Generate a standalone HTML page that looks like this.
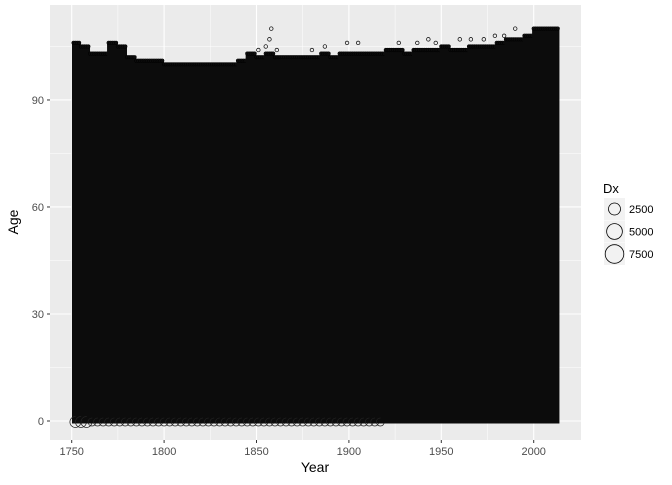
<!DOCTYPE html>
<html><head><meta charset="utf-8"><style>
body{margin:0;background:#fff;font-family:"Liberation Sans",sans-serif}
</style></head><body>
<svg id="chart" width="672" height="480" xmlns="http://www.w3.org/2000/svg" font-family="Liberation Sans, sans-serif">
<rect x="50" y="5" width="531" height="435" fill="#ebebeb"/>
<g id="grid"></g>
<g id="marks"></g>
<g id="axes"></g>
<text x="315" y="472" font-size="14" text-anchor="middle">Year</text>
<text transform="translate(18,222) rotate(-90)" font-size="14" text-anchor="middle">Age</text>
<g>
<text x="603" y="193" font-size="13">Dx</text>
<g id="legend-keys"></g>
</g>
</svg>
<script>
const xTicks=[1750,1800,1850,1900,1950,2000];
const yTicks=[0,30,60,90];
const binStarts=[1750,1755,1760,1765,1770,1775,1780,1785,1790,1795,1800,1805,1810,1815,1820,1825,1830,1835,1840,1845,1850,1855,1860,1865,1870,1875,1880,1885,1890,1895,1900,1905,1910,1915,1920,1925,1930,1935,1940,1945,1950,1955,1960,1965,1970,1975,1980,1985,1990,1995,2000,2005,2010];
const binMaxAge=[106,105,103,103,106,105,102,101,101,101,100,100,100,100,100,100,100,100,101,103,102,103,102,102,102,102,102,103,102,103,103,103,103,103,104,104,103,104,104,104,105,104,104,105,105,105,106,107,107,108,110,110,110];
const outlierYears=[1851,1855,1857,1858,1861,1880,1887,1899,1905,1927,1937,1943,1947,1960,1966,1973,1979,1984,1990];
const outlierAges=[104,105,107,110,104,104,105,106,106,106,106,107,106,107,107,107,108,108,110];
const legendValues=[2500,5000,7500];
const NS='http://www.w3.org/2000/svg';
const x=v=>71.7+(v-1750)*1.848;
const y=v=>421-v*3.567;
const r=v=>Math.sqrt(v)*0.09+1.5;
function mk(t,a,p){const e=document.createElementNS(NS,t);for(const k in a)e.setAttribute(k,a[k]);p.appendChild(e);return e;}
const grid=document.getElementById('grid'),marks=document.getElementById('marks'),axes=document.getElementById('axes');
for(let i=0;i<xTicks.length;i++){
 const gx=mk('line',{x1:x(xTicks[i]),x2:x(xTicks[i]),y1:5,y2:440,stroke:'#fff','stroke-width':1.1},grid);
 
 if(i<xTicks.length-1){const m=(xTicks[i]+xTicks[i+1])/2;const gm=mk('line',{x1:x(m),x2:x(m),y1:5,y2:440,stroke:'#fff','stroke-width':0.5},grid);
 }
 const t=mk('line',{x1:x(xTicks[i]),x2:x(xTicks[i]),y1:440,y2:443,stroke:'#333'},axes);
 
 const l=mk('text',{x:x(xTicks[i]),y:455,'font-size':11,fill:'#4d4d4d','text-anchor':'middle'},axes);l.textContent=xTicks[i];
 
}
mk('line',{x1:x(1725),x2:x(1725),y1:5,y2:440,stroke:'#fff','stroke-width':0.5},grid);
for(let i=0;i<yTicks.length;i++){
 const g=mk('line',{x1:50,x2:581,y1:y(yTicks[i]),y2:y(yTicks[i]),stroke:'#fff','stroke-width':1.1},grid);
 
 const m=yTicks[i]+15;const gm=mk('line',{x1:50,x2:581,y1:y(m),y2:y(m),stroke:'#fff','stroke-width':0.5},grid);
 
 const t=mk('line',{x1:47,x2:50,y1:y(yTicks[i]),y2:y(yTicks[i]),stroke:'#333'},axes);
 
 const l=mk('text',{x:44,y:y(yTicks[i])+4,'font-size':11,fill:'#4d4d4d','text-anchor':'end'},axes);l.textContent=yTicks[i];
 
}
for(let yr=1751;yr<=2013;yr++){
 const bi=Math.min(binStarts.length-1,Math.floor((yr-1750)/5));
 const top=binMaxAge[bi];
 const c=mk('rect',{x:x(yr)-1.6,y:y(top)-1.5,width:3.3,height:y(0)-y(top)+4,fill:'#0c0c0c'},marks);
 
 const p=mk('circle',{cx:x(yr),cy:y(top),r:1.8,fill:'none',stroke:'#000','stroke-width':0.6},marks);
 
 if(yr<1920&&yr%3==0){const b=mk('circle',{cx:x(yr),cy:y(0)+1,r:yr<1760?5.5:4,fill:'none',stroke:'#222','stroke-width':0.7},marks);
 }
}
for(let i=0;i<outlierYears.length;i++){
 const p=mk('circle',{cx:x(outlierYears[i]),cy:y(outlierAges[i]),r:1.8,fill:'none',stroke:'#000','stroke-width':0.7},marks);
 
}
const lk=document.getElementById('legend-keys');
for(let i=0;i<legendValues.length;i++){
 const cy=209+i*22.5;
 const bg=mk('rect',{x:604,y:cy-11,width:21,height:22,fill:'#f2f2f2'},lk);
 
 const c=mk('circle',{cx:614.5,cy:cy,r:r(legendValues[i]),fill:'none',stroke:'#000','stroke-width':0.8},lk);
 
 const t=mk('text',{x:629,y:cy+4,'font-size':11,fill:'#000'},lk);t.textContent=legendValues[i];
 
}
</script>
</body></html>
